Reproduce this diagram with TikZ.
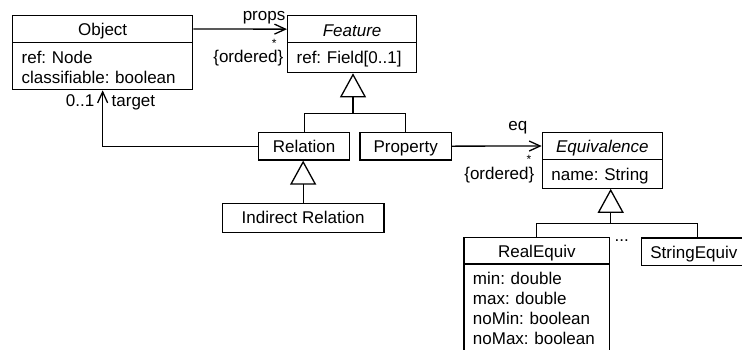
\documentclass[tikz,border=0pt]{standalone}
\usepackage{fontspec}
\setmainfont{Liberation Sans}
\usetikzlibrary{arrows.meta,calc}
\frenchspacing

\begin{document}
\begin{tikzpicture}[x=1pt,y=-1pt,
  font=\fontsize{17}{20}\selectfont,
  comp/.style={draw, line width=1.3pt, anchor=north west,
    inner xsep=9pt, inner ysep=0pt, text height=20.5pt},
  head/.style={comp, align=center},
  attrs/.style={comp, align=left},
  lbl/.style={inner sep=0pt},
  small/.style={font=\fontsize{12}{14}\selectfont},
  line/.style={line width=1.3pt},
  assoc/.style={line width=1.3pt,
    -{Straight Barb[length=11pt,width=10pt,line width=1.3pt]}},
  gen/.style={line width=1.3pt,
    -{Triangle[open,length=24pt,width=26pt,line width=1.3pt]}}]

\useasboundingbox (0,0) rectangle (742,349);
\clip (0,0) rectangle (742,349);

% Object
\node[head, minimum width=180pt, minimum height=27.3pt, text depth=6.8pt]
  (objh) at (12,14.7) {Object};
\node[attrs, minimum width=180pt, minimum height=47pt, text width=162pt, text depth=26.5pt]
  (obja) at (12,42) {ref: Node\\classifiable: boolean};

% Feature
\node[head, minimum width=129pt, minimum height=27pt, text depth=6.5pt]
  (feath) at (287,15) {\itshape Feature};
\node[attrs, minimum width=129pt, minimum height=30pt, text width=111pt, text depth=9.5pt]
  (feata) at (287,42) {ref: Field[0..1]};

% Relation, Property, Indirect Relation
\node[head, minimum width=91pt, minimum height=27.6pt, text depth=7.1pt]
  (rel) at (258,131.7) {Relation};
\node[head, minimum width=91.4pt, minimum height=27.6pt, text depth=7.1pt]
  (prop) at (359.3,131.7) {Property};
\node[head, minimum width=161.6pt, minimum height=29pt, text depth=8.5pt]
  (ind) at (221.7,202.7) {Indirect Relation};

% Equivalence
\node[head, minimum width=120pt, minimum height=27.3pt, text depth=6.8pt]
  (eqh) at (541.7,131.7) {\itshape Equivalence};
\node[attrs, minimum width=120pt, minimum height=28.5pt, text width=102pt, text depth=8pt]
  (eqa) at (541.7,159) {name: String};

% RealEquiv, StringEquiv
\node[head, minimum width=145.7pt, minimum height=26.6pt, text depth=6.1pt]
  (realh) at (463.3,236.7) {RealEquiv};
\node[attrs, minimum width=145.7pt, minimum height=95pt, text width=127.7pt, text depth=74.5pt]
  (reala) at (463.3,263.3) {min: double\\max: double\\noMin: boolean\\noMax: boolean};
\node[head, minimum width=98.3pt, minimum height=27.7pt, text depth=7.2pt]
  (strh) at (640.7,237.3) {StringEquiv};
\node[lbl, anchor=base] (dots) at (621.7,241.7) {...};

% associations
\draw[assoc] (objh.east) -- (feath.west);
\node[lbl, anchor=base east] (lprops) at (285.5,20) {props};
\node[lbl, small, anchor=base] (lstar1) at (274.3,47.5) {*};
\node[lbl, anchor=base east] (lord1) at (283.5,62.5) {\{ordered\}};

\draw[assoc] (rel.west) -| (obja.south);
\node[lbl, anchor=base east] (lmult) at (94.5,106) {0..1};
\node[lbl, anchor=base west] (ltarget) at (111.5,106) {target};

\draw[assoc] (prop.east) -- (eqh.west);
\node[lbl, anchor=base east] (leq) at (527.5,130) {eq};
\node[lbl, small, anchor=base] (lstar2) at (529,163.5) {*};
\node[lbl, anchor=base east] (lord2) at (534.5,179.3) {\{ordered\}};

% generalizations
\coordinate (fbr) at (353,113.3);
\draw[gen] (fbr) -- (fbr |- feata.south);
\draw[line] (rel.north) |- (fbr) -| (prop.north);

\draw[gen] (ind.north) -- (ind.north |- rel.south);

\coordinate (ebr) at (610.7,223.8);
\draw[gen] (ebr) -- (ebr |- eqa.south);
\draw[line] (realh.north) |- (ebr) -| ([xshift=4pt]strh.north);
\end{tikzpicture}
\end{document}
